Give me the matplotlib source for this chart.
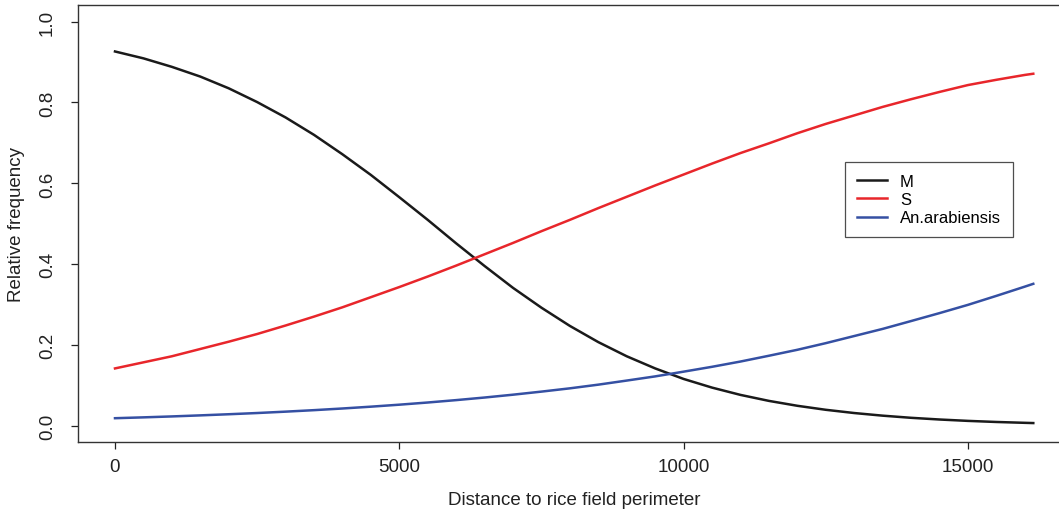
import matplotlib
matplotlib.use("Agg")
import matplotlib.pyplot as plt

plt.rcParams['font.family'] = ['Liberation Sans', 'DejaVu Sans']

# distance values (m) and fitted relative frequencies
distance = [0, 500, 1000, 1500, 2000, 2500, 3000, 3500, 4000, 4500,
            5000, 5500, 6000, 6500, 7000, 7500, 8000, 8500, 9000, 9500,
            10000, 10500, 11000, 11500, 12000, 12500, 13000, 13500, 14000, 14500,
            15000, 15500, 16000, 16150]
freq_m = [0.926, 0.909, 0.888, 0.864, 0.835, 0.801, 0.763, 0.720, 0.672, 0.621,
          0.566, 0.510, 0.452, 0.396, 0.342, 0.293, 0.248, 0.208, 0.173, 0.143,
          0.117, 0.0956, 0.0776, 0.0628, 0.0507, 0.0408, 0.0328, 0.0263, 0.0210, 0.0168,
          0.0134, 0.0107, 0.0086, 0.008]
freq_s = [0.143, 0.158, 0.173, 0.191, 0.209, 0.228, 0.249, 0.271, 0.294, 0.319,
          0.344, 0.370, 0.397, 0.425, 0.453, 0.482, 0.510, 0.539, 0.567, 0.595,
          0.622, 0.649, 0.675, 0.699, 0.724, 0.747, 0.768, 0.789, 0.808, 0.826,
          0.843, 0.856, 0.868, 0.871]
freq_arab = [0.0200, 0.0221, 0.0244, 0.0270, 0.0298, 0.0328, 0.0362, 0.0399, 0.0440, 0.0485,
             0.0534, 0.0588, 0.0647, 0.0711, 0.0781, 0.0857, 0.0938, 0.1029, 0.113, 0.1233,
             0.135, 0.147, 0.160, 0.1743, 0.189, 0.2054, 0.223, 0.2406, 0.260, 0.2796,
             0.300, 0.3222, 0.345, 0.352]

labels = ['M', 'S', 'An.arabiensis']
colors = ['#1a1a1a', '#E8262B', '#3550A3']

fig = plt.figure(figsize=(10.59, 5.10), dpi=100)
ax = fig.add_axes([0.0739, 0.1304, 0.9365, 0.8572])

for vals, lab, col in zip([freq_m, freq_s, freq_arab], labels, colors):
    ax.plot(distance, vals, color=col, lw=1.8, label=lab, solid_joinstyle='round')

ax.set_xlim(-646, 16796)
ax.set_ylim(-0.04, 1.04)
ax.set_xticks([0, 5000, 10000, 15000])
ax.set_yticks([0.0, 0.2, 0.4, 0.6, 0.8, 1.0])
ax.set_yticklabels(['0.0', '0.2', '0.4', '0.6', '0.8', '1.0'], rotation=90, va='center')

ax.tick_params(axis='both', direction='out', length=5, width=0.9, colors='#222222',
               labelsize=13.5, labelcolor='#222222')
ax.tick_params(axis='x', pad=6.5)
ax.tick_params(axis='y', pad=11)
for s in ax.spines.values():
    s.set_color('#333333')
    s.set_linewidth(1.0)

ax.set_xlabel('Distance to rice field perimeter', fontsize=13.5, color='#222222', labelpad=11)
ax.set_ylabel('Relative frequency', fontsize=13.5, color='#222222', labelpad=10)

leg = ax.legend(loc='upper left', bbox_to_anchor=(0.773, 0.6416), fontsize=12,
                frameon=True, fancybox=False, borderaxespad=0, handlelength=1.8,
                handletextpad=0.8, labelspacing=0.2, borderpad=0.7)
leg.get_frame().set_edgecolor('#222222')
leg.get_frame().set_linewidth(0.9)

fig.savefig('out.png', dpi=100)
